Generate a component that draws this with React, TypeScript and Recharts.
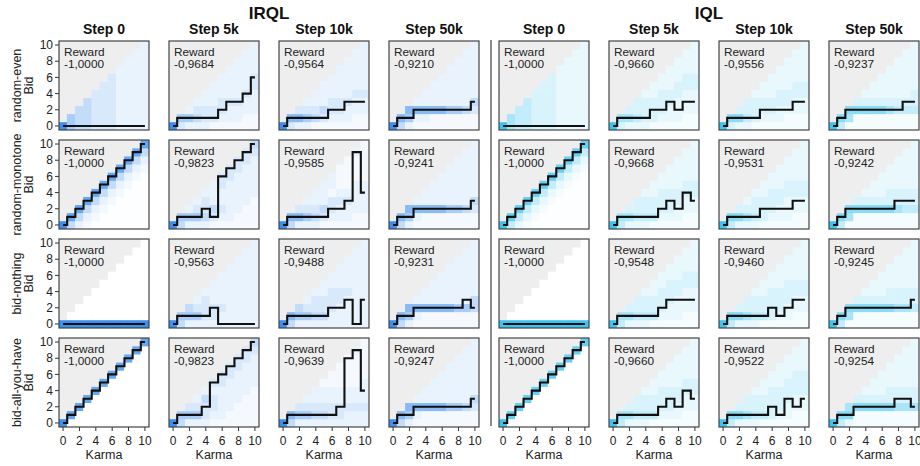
import React from 'react'
import { ComposedChart, LineChart, Scatter, Line, XAxis, YAxis, Cell } from 'recharts'

const FONT = '"Liberation Sans", Arial, Helvetica, sans-serif'

const methodNames = ['IRQL', 'IQL']
const stepNames = ['Step 0', 'Step 5k', 'Step 10k', 'Step 50k']
const rowNames = ['random-even', 'random-monotone', 'bid-nothing', 'bid-all-you-have']
const karma = [0, 1, 2, 3, 4, 5, 6, 7, 8, 9, 10]
const axisTicks = [0, 2, 4, 6, 8, 10]

// greedy bid for each karma 0..10, [row][step]
const irqlPolicy = [
  [
    [0, 0, 0, 0, 0, 0, 0, 0, 0, 0, 0],
    [0, 1, 1, 1, 1, 1, 2, 3, 3, 4, 6],
    [0, 1, 1, 1, 1, 1, 2, 2, 3, 3, 3],
    [0, 1, 1, 2, 2, 2, 2, 2, 2, 2, 3],
  ],
  [
    [0, 1, 2, 3, 4, 5, 6, 7, 8, 9, 10],
    [0, 1, 1, 1, 2, 1, 6, 7, 8, 9, 10],
    [0, 1, 1, 1, 1, 1, 2, 2, 3, 9, 4],
    [0, 1, 1, 2, 2, 2, 2, 2, 2, 2, 3],
  ],
  [
    [0, 0, 0, 0, 0, 0, 0, 0, 0, 0, 0],
    [0, 1, 1, 1, 1, 2, 0, 0, 0, 0, 0],
    [0, 1, 1, 1, 1, 1, 2, 2, 3, 0, 3],
    [0, 1, 1, 2, 2, 2, 2, 2, 2, 3, 2],
  ],
  [
    [0, 1, 2, 3, 4, 5, 6, 7, 8, 9, 10],
    [0, 1, 1, 1, 2, 5, 6, 7, 8, 9, 10],
    [0, 1, 1, 1, 1, 1, 1, 2, 8, 9, 4],
    [0, 1, 1, 2, 2, 2, 2, 2, 2, 2, 3],
  ],
]

const iqlPolicy = [
  [
    [0, 0, 0, 0, 0, 0, 0, 0, 0, 0, 0],
    [0, 1, 1, 1, 1, 2, 2, 3, 2, 3, 3],
    [0, 1, 1, 1, 1, 2, 2, 2, 2, 3, 3],
    [0, 1, 2, 2, 2, 2, 2, 2, 2, 3, 3],
  ],
  [
    [0, 1, 2, 3, 4, 5, 6, 7, 8, 9, 10],
    [0, 1, 1, 1, 1, 1, 2, 3, 2, 4, 3],
    [0, 1, 1, 1, 1, 2, 2, 2, 2, 3, 3],
    [0, 1, 2, 2, 2, 2, 2, 2, 3, 3, 3],
  ],
  [
    [0, 0, 0, 0, 0, 0, 0, 0, 0, 0, 0],
    [0, 1, 1, 1, 1, 1, 2, 3, 3, 3, 3],
    [0, 1, 1, 1, 1, 1, 2, 1, 2, 3, 3],
    [0, 1, 2, 2, 2, 2, 2, 2, 2, 2, 3],
  ],
  [
    [0, 1, 2, 3, 4, 5, 6, 7, 8, 9, 10],
    [0, 1, 1, 1, 1, 1, 2, 3, 2, 4, 3],
    [0, 1, 1, 1, 1, 1, 2, 1, 3, 2, 3],
    [0, 1, 1, 2, 2, 2, 2, 2, 3, 3, 2],
  ],
]

const irqlReward = [
  ['-1,0000', '-0,9684', '-0,9564', '-0,9210'],
  ['-1,0000', '-0,9823', '-0,9585', '-0,9241'],
  ['-1,0000', '-0,9563', '-0,9488', '-0,9231'],
  ['-1,0000', '-0,9823', '-0,9639', '-0,9247'],
]

const iqlReward = [
  ['-1,0000', '-0,9660', '-0,9556', '-0,9237'],
  ['-1,0000', '-0,9668', '-0,9531', '-0,9242'],
  ['-1,0000', '-0,9548', '-0,9460', '-0,9245'],
  ['-1,0000', '-0,9660', '-0,9522', '-0,9254'],
]

// bid probability shade 0-9, one group per karma, bid 0..karma
const irqlHeat = [
  [
    '9 66 555 5555 44444 444444 4444444 33333333 333333333 3333333333 33333333333',
    '9 46 363 3543 34433 244333 2344333 23343333 233433333 2233433333 22333443333',
    '9 47 374 3643 25433 245333 2344333 23443333 233433333 2233433333 22334333333',
    '9 57 367 2373 23733 227333 2273333 22633333 226333333 2253333333 22453333333',
  ],
  [
    '9 58 358 2358 12358 112358 1112358 11112358 111112358 1111112358 11111112358',
    '9 56 363 3643 35443 245333 2343344 23333344 223333344 2223333344 22223333345',
    '9 57 374 3643 35433 245333 2344233 23343222 233432222 2233332223 22333322222',
    '9 57 367 2373 22733 227333 2273333 22633333 226333333 2253333333 22453333333',
  ],
  [
    '9 90 900 9000 90000 900000 9000000 90000000 900000000 9000000000 90000000000',
    '9 56 365 3643 34443 344333 3343333 33333333 333333333 3333333333 33333333333',
    '9 57 365 3643 35443 354433 3344433 33344333 333343333 3333333333 33333333333',
    '9 57 367 2373 22733 227333 2273333 22733333 226333333 2263333333 22553333333',
  ],
  [
    '9 08 008 0008 00008 000008 0000008 00000008 000000008 0000000008 00000000008',
    '9 56 364 3643 34453 234434 2333344 22333344 222333344 2222333344 22222333345',
    '9 57 364 3643 35433 354332 3443322 34433222 334332222 3343322223 33433322222',
    '9 57 367 2373 22733 227333 2273333 22633333 226333333 2253333333 22453333333',
  ],
]

const iqlHeat = [
  [
    '9 66 555 5555 44444 444444 4444444 33333333 333333333 3333333333 33333333333',
    '9 46 364 3544 34443 244433 2344433 23344333 233344333 2233344333 22333443333',
    '9 47 374 3544 24443 234433 2344333 23344333 223443333 2233443333 22334433333',
    '9 57 267 2274 22743 227433 2274333 22643333 225433333 2254333333 22544333333',
  ],
  [
    '9 58 358 2358 12358 112358 1112358 11112358 111112358 1111112358 11111112358',
    '9 56 364 3544 35443 254433 2344433 23444333 233443333 2233443333 22334433333',
    '9 57 374 3643 35443 244433 2344433 23344333 233344333 2233443333 22334433333',
    '9 57 267 2274 22743 227433 2274333 22744333 226443333 2254433333 22544333333',
  ],
  [
    '9 90 900 9000 90000 900000 9000000 90000000 900000000 9000000000 90000000000',
    '9 56 364 3544 35443 254433 2344433 23344433 233344333 2233344333 22333443333',
    '9 57 374 3644 35443 254433 2444433 23444333 233444333 2233443333 22334433333',
    '9 57 267 2274 22743 227433 2274333 22744333 226443333 2264433333 22544333333',
  ],
  [
    '9 08 008 0008 00008 000008 0000008 00000008 000000008 0000000008 00000000008',
    '9 56 364 3544 35443 254433 2344433 23444333 233443333 2233443333 22334433333',
    '9 57 374 3644 35443 254433 2444433 23444333 233444333 2233444333 22334443333',
    '9 57 376 2274 22743 227433 2274333 22744333 226443333 2264433333 22644333333',
  ],
]

const methodColor = ['#3b8ff0', '#3cc4f0']
const GREY = '#eeeeee'

const colLeft = [59, 169, 279, 389, 499, 609, 719, 829]
const rowTop = [41, 140, 239, 338]
const PW = 90
const PH = 89
const CW = PW / 11
const CH = PH / 11
const PAD = 8

function shade(hex: string, level: number) {
  const a = Math.pow(level / 9, 2)
  const n = parseInt(hex.slice(1), 16)
  const ch = [(n >> 16) & 255, (n >> 8) & 255, n & 255].map((c) => Math.round(255 + (c - 255) * a))
  return `rgb(${ch[0]},${ch[1]},${ch[2]})`
}

const CellShape = (props: any) => {
  const { cx, cy } = props
  const fill = props.payload?.fill ?? props.fill
  return <rect x={cx - CW / 2 - 0.3} y={cy - CH / 2 - 0.3} width={CW + 0.6} height={CH + 0.6} fill={fill} />
}

function Panel({ m, r, s }: { m: number; r: number; s: number }) {
  const c = m * 4 + s
  const policy = (m === 0 ? irqlPolicy : iqlPolicy)[r][s]
  const heat = (m === 0 ? irqlHeat : iqlHeat)[r][s].split(' ')
  const cells: { x: number; y: number; fill: string }[] = []
  karma.forEach((k) => {
    karma.forEach((b) => {
      const fill = b > k ? GREY : shade(methodColor[m], Number(heat[k][b]))
      cells.push({ x: k, y: b, fill })
    })
  })
  const line = policy.map((b, k) => ({ x: k, y: b }))
  const showY = c === 0
  const showX = r === 3
  const padL = showY ? 59 : 0
  const padB = showX ? 30 : PAD
  const w = PW + padL + PAD
  const h = PAD + PH + padB
  const tickStyle = { fontSize: 12, fill: '#222', fontFamily: FONT }
  const box: React.CSSProperties = { position: 'absolute', left: 0, top: 0 }

  return (
    <div style={{ position: 'absolute', left: colLeft[c] - padL, top: rowTop[r] - PAD, width: w, height: h }}>
      <div style={box}>
        <ComposedChart width={w} height={h} margin={{ top: PAD, right: PAD, left: 0, bottom: showX ? 0 : PAD }}>
          <XAxis
            type="number"
            dataKey="x"
            domain={[-0.5, 10.5]}
            ticks={axisTicks}
            interval={0}
            hide={!showX}
            height={30}
            axisLine={false}
            tickSize={4}
            tickMargin={5}
            tickLine={{ stroke: '#333' }}
            tick={tickStyle}
            allowDataOverflow
          />
          <YAxis
            type="number"
            dataKey="y"
            domain={[-0.5, 10.5]}
            ticks={axisTicks}
            interval={0}
            hide={!showY}
            width={59}
            axisLine={false}
            tickSize={4}
            tickMargin={2}
            tickLine={{ stroke: '#333' }}
            tick={tickStyle}
            allowDataOverflow
          />
          <Scatter data={cells} shape={CellShape} isAnimationActive={false}>
            {cells.map((d, i) => (
              <Cell key={i} fill={d.fill} />
            ))}
          </Scatter>
        </ComposedChart>
      </div>
      <div style={box}>
        <LineChart width={w} height={h} data={line} margin={{ top: PAD, right: PAD, left: padL, bottom: padB }}>
          <XAxis type="number" dataKey="x" domain={[-0.5, 10.5]} hide allowDataOverflow />
          <YAxis type="number" domain={[-0.5, 10.5]} hide allowDataOverflow />
          <Line
            dataKey="y"
            type="step"
            stroke="#111"
            strokeWidth={2.1}
            dot={false}
            activeDot={false}
            isAnimationActive={false}
          />
        </LineChart>
      </div>
    </div>
  )
}

export default function App() {
  const panels: React.ReactNode[] = []
  ;[0, 1].forEach((m) =>
    rowNames.forEach((_, r) => stepNames.forEach((__, s) => panels.push(<Panel key={`${m}-${r}-${s}`} m={m} r={r} s={s} />)))
  )

  return (
    <div style={{ position: 'absolute', left: 0, top: 0, width: 920, height: 466, background: '#fff', fontFamily: FONT }}>
      {panels}
      <svg width={920} height={466} style={{ position: 'absolute', left: 0, top: 0, pointerEvents: 'none' }}>
        {methodNames.map((name, m) => (
          <text key={name} x={(colLeft[m * 4] + colLeft[m * 4 + 3] + PW) / 2} y={13} textAnchor="middle" dominantBaseline="central" fontSize={17} fontWeight="bold" fill="#111">
            {name}
          </text>
        ))}
        {colLeft.map((x, c) => (
          <text key={`st${c}`} x={x + PW / 2} y={29} textAnchor="middle" dominantBaseline="central" fontSize={14} fontWeight="bold" fill="#111">
            {stepNames[c % 4]}
          </text>
        ))}
        {rowNames.map((name, r) => (
          <g key={name}>
            <text transform={`translate(16.5, ${rowTop[r] + PH / 2}) rotate(-90)`} textAnchor="middle" dominantBaseline="central" fontSize={12.5} fill="#222">
              {name}
            </text>
            <text transform={`translate(28.5, ${rowTop[r] + PH / 2}) rotate(-90)`} textAnchor="middle" dominantBaseline="central" fontSize={12.5} fill="#222">
              Bid
            </text>
          </g>
        ))}
        {rowNames.map((_, r) =>
          colLeft.map((x, c) => {
            const m = c < 4 ? 0 : 1
            const val = (m === 0 ? irqlReward : iqlReward)[r][c % 4]
            return (
              <g key={`f${r}-${c}`}>
                <rect x={x} y={rowTop[r]} width={PW} height={PH} fill="none" stroke="#444" strokeWidth={1.2} />
                <text x={x + 5} y={rowTop[r] + 10.8} dominantBaseline="central" fontSize={11.8} fill="#222">
                  Reward
                </text>
                <text x={x + 5} y={rowTop[r] + 23} dominantBaseline="central" fontSize={11.8} fill="#222">
                  {val}
                </text>
              </g>
            )
          })
        )}
        {colLeft.map((x, c) => (
          <text key={`k${c}`} x={x + PW / 2} y={455} textAnchor="middle" dominantBaseline="central" fontSize={12.5} fill="#222">
            Karma
          </text>
        ))}
        <line x1={491} y1={40} x2={491} y2={426} stroke="#666" strokeWidth={1.5} />
      </svg>
    </div>
  )
}
